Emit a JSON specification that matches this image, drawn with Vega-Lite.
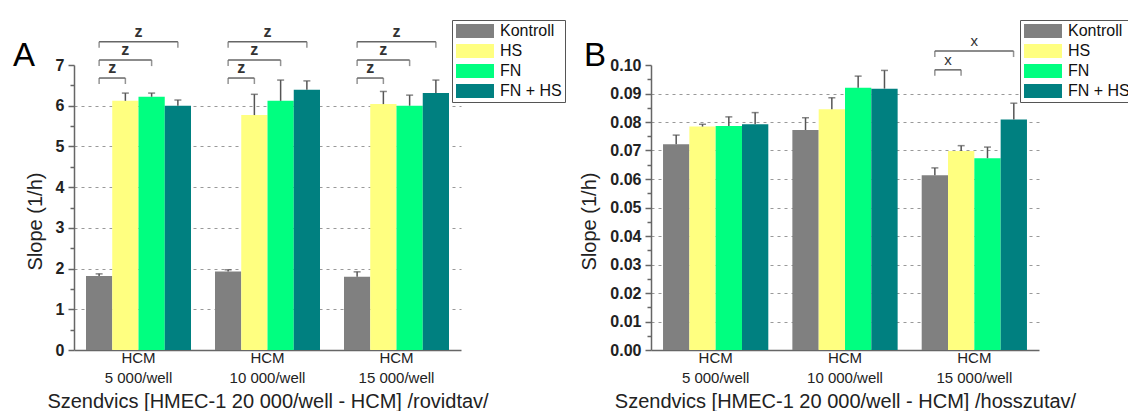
{
  "$schema": "https://vega.github.io/schema/vega-lite/v6.json",
  "padding": {"left": 13, "top": 19, "right": 0, "bottom": 0},
  "config": {
    "font": "Liberation Sans",
    "view": {"stroke": null},
    "axis": {"labelFont": "Liberation Sans", "titleFont": "Liberation Sans", "domainColor": "#666", "domainWidth": 1.5, "tickColor": "#666", "tickWidth": 1.5, "labelColor": "#222", "titleColor": "#222", "titleFontWeight": "normal"},
    "legend": {
      "symbolType": "M-1,-1H4.428V1H-1Z",
      "symbolSize": 196,
      "symbolStrokeWidth": 0,
      "labelFontSize": 16,
      "labelFont": "Liberation Sans",
      "labelColor": "#111",
      "labelOffset": 29,
      "rowPadding": 4,
      "padding": 3,
      "strokeColor": "#555",
      "fillColor": "#ffffff",
      "cornerRadius": 0
    },
    "title": {"font": "Liberation Sans", "fontSize": 33, "fontWeight": "normal", "color": "#000"}
  },
  "datasets": {
    "barsA": [
      {"g": "5 000/well", "c": "Kontroll", "v": 1.82, "hi": 1.87},
      {"g": "5 000/well", "c": "HS", "v": 6.12, "hi": 6.31},
      {"g": "5 000/well", "c": "FN", "v": 6.22, "hi": 6.31},
      {"g": "5 000/well", "c": "FN + HS", "v": 6.0, "hi": 6.14},
      {"g": "10 000/well", "c": "Kontroll", "v": 1.93, "hi": 1.97},
      {"g": "10 000/well", "c": "HS", "v": 5.77, "hi": 6.28},
      {"g": "10 000/well", "c": "FN", "v": 6.12, "hi": 6.63},
      {"g": "10 000/well", "c": "FN + HS", "v": 6.39, "hi": 6.61},
      {"g": "15 000/well", "c": "Kontroll", "v": 1.8, "hi": 1.92},
      {"g": "15 000/well", "c": "HS", "v": 6.04, "hi": 6.35},
      {"g": "15 000/well", "c": "FN", "v": 6.0, "hi": 6.26},
      {"g": "15 000/well", "c": "FN + HS", "v": 6.31, "hi": 6.63}
    ],
    "barsB": [
      {"g": "5 000/well", "c": "Kontroll", "v": 0.0722, "hi": 0.0754},
      {"g": "5 000/well", "c": "HS", "v": 0.0784, "hi": 0.0792},
      {"g": "5 000/well", "c": "FN", "v": 0.0786, "hi": 0.0818},
      {"g": "5 000/well", "c": "FN + HS", "v": 0.0792, "hi": 0.0833},
      {"g": "10 000/well", "c": "Kontroll", "v": 0.0772, "hi": 0.0815},
      {"g": "10 000/well", "c": "HS", "v": 0.0845, "hi": 0.0885},
      {"g": "10 000/well", "c": "FN", "v": 0.092, "hi": 0.0961},
      {"g": "10 000/well", "c": "FN + HS", "v": 0.0917, "hi": 0.0981},
      {"g": "15 000/well", "c": "Kontroll", "v": 0.0613, "hi": 0.0639},
      {"g": "15 000/well", "c": "HS", "v": 0.0698, "hi": 0.0717},
      {"g": "15 000/well", "c": "FN", "v": 0.0673, "hi": 0.0712},
      {"g": "15 000/well", "c": "FN + HS", "v": 0.0809, "hi": 0.0866}
    ],
    "brA": [
      {"g": "5 000/well", "a": 0, "b": 1, "lvl": 6.68, "t": "z"},
      {"g": "5 000/well", "a": 0, "b": 2, "lvl": 7.12, "t": "z"},
      {"g": "5 000/well", "a": 0, "b": 3, "lvl": 7.57, "t": "z"},
      {"g": "10 000/well", "a": 0, "b": 1, "lvl": 6.68, "t": "z"},
      {"g": "10 000/well", "a": 0, "b": 2, "lvl": 7.12, "t": "z"},
      {"g": "10 000/well", "a": 0, "b": 3, "lvl": 7.57, "t": "z"},
      {"g": "15 000/well", "a": 0, "b": 1, "lvl": 6.68, "t": "z"},
      {"g": "15 000/well", "a": 0, "b": 2, "lvl": 7.12, "t": "z"},
      {"g": "15 000/well", "a": 0, "b": 3, "lvl": 7.57, "t": "z"}
    ],
    "brB": [
      {"g": "15 000/well", "a": 0, "b": 1, "lvl": 0.0983, "t": "x"},
      {"g": "15 000/well", "a": 0, "b": 3, "lvl": 0.1049, "t": "x"}
    ]
  },
  "hconcat": [
    {
      "width": 387,
      "height": 285,
      "title": {"text": "A", "anchor": "start", "frame": "group", "dx": -61, "dy": 83, "baseline": "alphabetic"},
      "layer": [
        {
          "data": {"name": "barsA"},
          "mark": {"type": "bar"},
          "encoding": {
            "x": {"field": "g", "type": "nominal", "sort": null,
              "scale": {"domain": ["5 000/well", "10 000/well", "15 000/well"], "paddingInner": 0.186, "paddingOuter": 0.093},
              "axis": {"title": "Szendvics [HMEC-1 20 000/well - HCM] /rovidtav/", "labelExpr": "['HCM', datum.label]", "labelAngle": 0, "ticks": false, "labelFontSize": 15, "labelLineHeight": 20, "labelPadding": 0, "labelBaseline": "top", "titleFontSize": 20, "titlePadding": 6}},
            "xOffset": {"field": "c", "type": "nominal", "scale": {"domain": ["Kontroll", "HS", "FN", "FN + HS"], "paddingInner": 0, "paddingOuter": 0}},
            "y": {"field": "v", "type": "quantitative",
              "scale": {"domain": [0, 7], "nice": false},
              "axis": {"title": "Slope (1/h)", "values": [0, 1, 2, 3, 4, 5, 6, 7], "format": "d", "labelFontSize": 16, "labelFontWeight": "bold", "tickSize": 6, "labelPadding": 4, "grid": true, "gridDash": [3, 4], "gridColor": "#999", "gridWidth": 1, "gridOpacity": {"condition": {"test": "datum.value == 0 || datum.value >= 7", "value": 0}, "value": 1}, "titleFontSize": 20, "titlePadding": 10, "titleY": 156}},
            "color": {"field": "c", "type": "nominal",
              "scale": {"domain": ["Kontroll", "HS", "FN", "FN + HS"], "range": ["#808080", "#ffff80", "#00ff80", "#008080"]},
              "legend": {"title": null, "orient": "none", "legendX": 378, "legendY": -45}}
          }
        },
        {
          "data": {"name": "barsA"},
          "mark": {"type": "rule", "color": "#555", "strokeWidth": 1.5},
          "encoding": {
            "x": {"field": "g", "type": "nominal", "sort": null},
            "xOffset": {"field": "c", "type": "nominal", "scale": {"domain": ["Kontroll", "HS", "FN", "FN + HS"], "paddingInner": 0, "paddingOuter": 0}},
            "y": {"field": "v", "type": "quantitative", "axis": {"orient": "left", "values": [0.5, 1.5, 2.5, 3.5, 4.5, 5.5, 6.5], "labels": false, "domain": false, "grid": false, "tickSize": 4, "title": null}},
            "y2": {"field": "hi"}
          }
        },
        {
          "data": {"name": "barsA"},
          "mark": {"type": "tick", "color": "#555", "thickness": 1.5, "size": 7},
          "encoding": {
            "x": {"field": "g", "type": "nominal", "sort": null},
            "xOffset": {"field": "c", "type": "nominal", "scale": {"domain": ["Kontroll", "HS", "FN", "FN + HS"], "paddingInner": 0, "paddingOuter": 0}},
            "y": {"field": "hi", "type": "quantitative", "axis": null}
          }
        },
        {
          "data": {"name": "brA"},
          "transform": [{"fold": ["a", "b"], "as": ["end", "idx"]}],
          "layer": [
            {
              "mark": {"type": "line", "color": "#666", "strokeWidth": 1.5},
              "encoding": {
                "x": {"field": "g", "type": "nominal", "sort": null},
                "xOffset": {"field": "idx", "type": "quantitative", "scale": {"domain": [0, 3], "range": [13.125, 91.875], "nice": false, "zero": false}},
                "y": {"field": "lvl", "type": "quantitative", "axis": null},
                "detail": [{"field": "g"}, {"field": "lvl"}]
              }
            },
            {
              "mark": {"type": "tick", "orient": "vertical", "color": "#666", "thickness": 1.5, "size": 6, "yOffset": 3},
              "encoding": {
                "x": {"field": "g", "type": "nominal", "sort": null},
                "xOffset": {"field": "idx", "type": "quantitative", "scale": {"domain": [0, 3], "range": [13.125, 91.875], "nice": false, "zero": false}},
                "y": {"field": "lvl", "type": "quantitative", "axis": null}
              }
            },
            {
              "mark": {"type": "text", "fontSize": 16, "fontWeight": "bold", "dy": -5, "baseline": "alphabetic", "color": "#333"},
              "encoding": {
                "x": {"field": "g", "type": "nominal", "sort": null},
                "xOffset": {"aggregate": "mean", "field": "idx", "type": "quantitative", "scale": {"domain": [0, 3], "range": [13.125, 91.875], "nice": false, "zero": false}},
                "y": {"field": "lvl", "type": "quantitative", "axis": null},
                "text": {"field": "t"}
              }
            }
          ]
        }
      ],
      "resolve": {"scale": {"xOffset": "independent"}, "axis": {"y": "independent"}}
    },
    {
      "width": 388,
      "height": 285,
      "title": {"text": "B", "anchor": "start", "frame": "group", "dx": -67, "dy": 83, "baseline": "alphabetic"},
      "layer": [
        {
          "data": {"name": "barsB"},
          "mark": {"type": "bar"},
          "encoding": {
            "x": {"field": "g", "type": "nominal", "sort": null,
              "scale": {"domain": ["5 000/well", "10 000/well", "15 000/well"], "paddingInner": 0.186, "paddingOuter": 0.093},
              "axis": {"title": "Szendvics [HMEC-1 20 000/well - HCM] /hosszutav/", "labelExpr": "['HCM', datum.label]", "labelAngle": 0, "ticks": false, "labelFontSize": 15, "labelLineHeight": 20, "labelPadding": 0, "labelBaseline": "top", "titleFontSize": 20, "titlePadding": 6}},
            "xOffset": {"field": "c", "type": "nominal", "scale": {"domain": ["Kontroll", "HS", "FN", "FN + HS"], "paddingInner": 0, "paddingOuter": 0}},
            "y": {"field": "v", "type": "quantitative",
              "scale": {"domain": [0, 0.1], "nice": false},
              "axis": {"title": "Slope (1/h)", "values": [0, 0.01, 0.02, 0.03, 0.04, 0.05, 0.06, 0.07, 0.08, 0.09, 0.1], "format": ".2f", "labelFontSize": 16, "labelFontWeight": "bold", "tickSize": 6, "labelPadding": 4, "grid": true, "gridDash": [3, 4], "gridColor": "#999", "gridWidth": 1, "gridOpacity": {"condition": {"test": "datum.value == 0 || datum.value >= 0.0999", "value": 0}, "value": 1}, "titleFontSize": 20, "titlePadding": 10, "titleY": 156}},
            "color": {"field": "c", "type": "nominal",
              "scale": {"domain": ["Kontroll", "HS", "FN", "FN + HS"], "range": ["#808080", "#ffff80", "#00ff80", "#008080"]},
              "legend": {"title": null, "orient": "none", "legendX": 369, "legendY": -45}}
          }
        },
        {
          "data": {"name": "barsB"},
          "mark": {"type": "rule", "color": "#555", "strokeWidth": 1.5},
          "encoding": {
            "x": {"field": "g", "type": "nominal", "sort": null},
            "xOffset": {"field": "c", "type": "nominal", "scale": {"domain": ["Kontroll", "HS", "FN", "FN + HS"], "paddingInner": 0, "paddingOuter": 0}},
            "y": {"field": "v", "type": "quantitative", "axis": {"orient": "left", "values": [0.005, 0.015, 0.025, 0.035, 0.045, 0.055, 0.065, 0.075, 0.085, 0.095], "labels": false, "domain": false, "grid": false, "tickSize": 4, "title": null}},
            "y2": {"field": "hi"}
          }
        },
        {
          "data": {"name": "barsB"},
          "mark": {"type": "tick", "color": "#555", "thickness": 1.5, "size": 7},
          "encoding": {
            "x": {"field": "g", "type": "nominal", "sort": null},
            "xOffset": {"field": "c", "type": "nominal", "scale": {"domain": ["Kontroll", "HS", "FN", "FN + HS"], "paddingInner": 0, "paddingOuter": 0}},
            "y": {"field": "hi", "type": "quantitative", "axis": null}
          }
        },
        {
          "data": {"name": "brB"},
          "transform": [{"fold": ["a", "b"], "as": ["end", "idx"]}],
          "layer": [
            {
              "mark": {"type": "line", "color": "#666", "strokeWidth": 1.5},
              "encoding": {
                "x": {"field": "g", "type": "nominal", "sort": null},
                "xOffset": {"field": "idx", "type": "quantitative", "scale": {"domain": [0, 3], "range": [13.125, 91.875], "nice": false, "zero": false}},
                "y": {"field": "lvl", "type": "quantitative", "axis": null},
                "detail": [{"field": "g"}, {"field": "lvl"}]
              }
            },
            {
              "mark": {"type": "tick", "orient": "vertical", "color": "#666", "thickness": 1.5, "size": 6, "yOffset": 3},
              "encoding": {
                "x": {"field": "g", "type": "nominal", "sort": null},
                "xOffset": {"field": "idx", "type": "quantitative", "scale": {"domain": [0, 3], "range": [13.125, 91.875], "nice": false, "zero": false}},
                "y": {"field": "lvl", "type": "quantitative", "axis": null}
              }
            },
            {
              "mark": {"type": "text", "fontSize": 15, "dy": -5, "baseline": "alphabetic", "color": "#333"},
              "encoding": {
                "x": {"field": "g", "type": "nominal", "sort": null},
                "xOffset": {"aggregate": "mean", "field": "idx", "type": "quantitative", "scale": {"domain": [0, 3], "range": [13.125, 91.875], "nice": false, "zero": false}},
                "y": {"field": "lvl", "type": "quantitative", "axis": null},
                "text": {"field": "t"}
              }
            }
          ]
        }
      ],
      "resolve": {"scale": {"xOffset": "independent"}, "axis": {"y": "independent"}}
    }
  ],
  "spacing": 13,
  "resolve": {"scale": {"color": "independent", "xOffset": "independent"}, "legend": {"color": "independent"}}
}
